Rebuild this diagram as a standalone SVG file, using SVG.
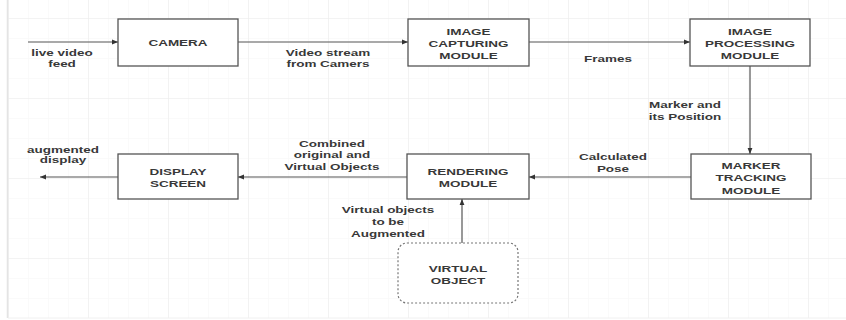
<svg xmlns="http://www.w3.org/2000/svg" width="846" height="320" viewBox="0 0 846 320">
<defs>
<pattern id="minor" x="8" y="18" width="20" height="20" patternUnits="userSpaceOnUse">
<path d="M0 0H20M0 0V20" fill="none" stroke="#f6f6f6" stroke-width="1"/>
</pattern>
<pattern id="major" x="8" y="18" width="80" height="80" patternUnits="userSpaceOnUse">
<path d="M0 0H80M0 0V80" fill="none" stroke="#ececec" stroke-width="1.2"/>
</pattern>
<marker id="ah" viewBox="0 0 10 10" refX="10" refY="5" markerWidth="6" markerHeight="6" orient="auto" markerUnits="userSpaceOnUse">
<path d="M0 1L10 5L0 9Z" fill="#333"/>
</marker>
</defs>
<style>
.box{fill:#fff;stroke:#555;stroke-width:1.3}
.dash{fill:#fff;stroke:#777;stroke-width:1.2;stroke-dasharray:2 2}
.c{fill:none;stroke:#555;stroke-width:1.2;marker-end:url(#ah)}
.t{font-family:"Liberation Sans",Arial,sans-serif;font-size:9.5px;font-weight:bold;fill:#383838;text-anchor:middle}
</style>
<rect width="846" height="320" fill="#fff"/>
<rect x="8" y="0" width="838" height="318" fill="url(#minor)"/>
<rect x="8" y="0" width="838" height="318" fill="url(#major)"/>
<line x1="7.5" y1="0" x2="7.5" y2="318" stroke="#e4e4e4" stroke-width="1.5"/>
<line x1="8" y1="318" x2="846" y2="318" stroke="#f0f0f0" stroke-width="1"/>

<g id="connectors">
<line class="c" x1="28" y1="42" x2="118" y2="42"/>
<line class="c" x1="238" y1="42" x2="408" y2="42"/>
<line class="c" x1="529" y1="42" x2="690" y2="42"/>
<line class="c" x1="750" y1="66" x2="750" y2="154"/>
<line class="c" x1="691" y1="177" x2="529" y2="177"/>
<line class="c" x1="407" y1="177" x2="238" y2="177"/>
<line class="c" x1="118" y1="177" x2="40" y2="177"/>
<line class="c" x1="462" y1="243" x2="462" y2="199"/>
</g>

<g id="edge-labels">
<text class="t" transform="translate(62,0) scale(1.42,1)"><tspan x="0" y="56">live video</tspan><tspan x="0" y="67">feed</tspan></text>
<text class="t" transform="translate(328,0) scale(1.42,1)"><tspan x="0" y="56">Video stream</tspan><tspan x="0" y="67">from Camers</tspan></text>
<text class="t" transform="translate(608,0) scale(1.42,1)"><tspan x="0" y="62.5">Frames</tspan></text>
<text class="t" transform="translate(685,0) scale(1.42,1)"><tspan x="0" y="108">Marker and</tspan><tspan x="0" y="120">its Position</tspan></text>
<text class="t" transform="translate(613,0) scale(1.42,1)"><tspan x="0" y="160">Calculated</tspan><tspan x="0" y="172">Pose</tspan></text>
<text class="t" transform="translate(332,0) scale(1.42,1)"><tspan x="0" y="147">Combined</tspan><tspan x="0" y="158.5">original and</tspan><tspan x="0" y="170">Virtual Objects</tspan></text>
<text class="t" transform="translate(63,0) scale(1.42,1)"><tspan x="0" y="153">augmented</tspan><tspan x="0" y="163.5">display</tspan></text>
<text class="t" transform="translate(388,0) scale(1.42,1)"><tspan x="0" y="213">Virtual objects</tspan><tspan x="0" y="225">to be</tspan><tspan x="0" y="237">Augmented</tspan></text>
</g>

<g id="camera">
<rect class="box" x="118" y="19" width="120" height="47"/>
<text class="t" transform="translate(178,0) scale(1.42,1)"><tspan x="0" y="46">CAMERA</tspan></text>
</g>
<g id="image-capturing-module">
<rect class="box" x="408" y="19" width="121" height="47"/>
<text class="t" transform="translate(468.5,0) scale(1.42,1)"><tspan x="0" y="35">IMAGE</tspan><tspan x="0" y="47">CAPTURING</tspan><tspan x="0" y="59">MODULE</tspan></text>
</g>
<g id="image-processing-module">
<rect class="box" x="690" y="19" width="120" height="47"/>
<text class="t" transform="translate(750,0) scale(1.42,1)"><tspan x="0" y="35">IMAGE</tspan><tspan x="0" y="47">PROCESSING</tspan><tspan x="0" y="59">MODULE</tspan></text>
</g>
<g id="marker-tracking-module">
<rect class="box" x="691" y="154" width="120" height="45"/>
<text class="t" transform="translate(751,0) scale(1.42,1)"><tspan x="0" y="169">MARKER</tspan><tspan x="0" y="181.5">TRACKING</tspan><tspan x="0" y="194">MODULE</tspan></text>
</g>
<g id="rendering-module">
<rect class="box" x="407" y="154" width="122" height="45"/>
<text class="t" transform="translate(468,0) scale(1.42,1)"><tspan x="0" y="175">RENDERING</tspan><tspan x="0" y="187">MODULE</tspan></text>
</g>
<g id="display-screen">
<rect class="box" x="118" y="154" width="120" height="45"/>
<text class="t" transform="translate(178,0) scale(1.42,1)"><tspan x="0" y="175">DISPLAY</tspan><tspan x="0" y="187">SCREEN</tspan></text>
</g>
<g id="virtual-object">
<rect class="dash" x="398" y="243" width="120" height="60" rx="9"/>
<text class="t" transform="translate(458,0) scale(1.42,1)"><tspan x="0" y="272.5">VIRTUAL</tspan><tspan x="0" y="284">OBJECT</tspan></text>
</g>
</svg>
